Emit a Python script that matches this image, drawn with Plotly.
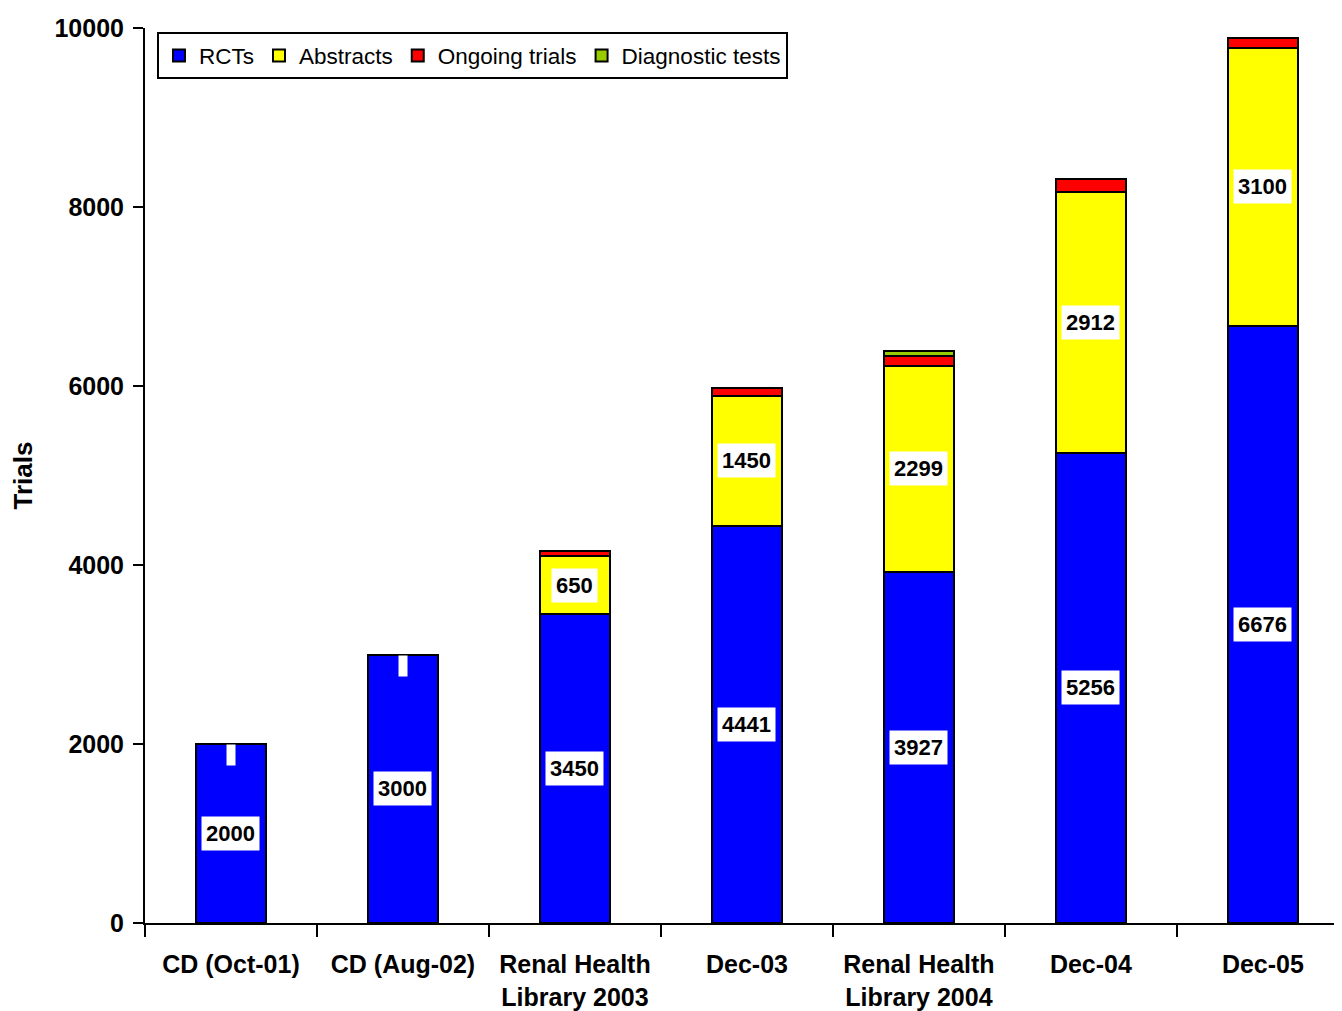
import plotly.graph_objects as go

categories = ["CD (Oct-01)", "CD (Aug-02)", "Renal Health<br>Library 2003", "Dec-03",
              "Renal Health<br>Library 2004", "Dec-04", "Dec-05"]
rcts = [2000, 3000, 3450, 4441, 3927, 5256, 6676]
abstracts = [0, 0, 650, 1450, 2299, 2912, 3100]
ongoing = [0, 0, 60, 85, 110, 140, 110]
diagnostic = [0, 0, 0, 0, 50, 0, 0]
y_ticks = [0, 2000, 4000, 6000, 8000, 10000]
y_tick_labels = ["0", "2000", "4000", "6000", "8000", "10000"]

FONT = "Liberation Sans, Arial, sans-serif"
series = [
    ("RCTs", rcts, "#0000FF"),
    ("Abstracts", abstracts, "#FFFF00"),
    ("Ongoing trials", ongoing, "#FF0000"),
    ("Diagnostic tests", diagnostic, "#99CC00"),
]

fig = go.Figure()
for name, vals, col in series:
    fig.add_trace(go.Bar(
        x=categories, y=vals, name=name, width=0.41,
        marker=dict(color=col, line=dict(color="black", width=2)),
    ))

annotations = []
for i, cat in enumerate(categories):
    annotations.append(dict(
        x=cat, y=rcts[i] / 2, xref="x", yref="y", text=str(rcts[i]),
        showarrow=False, bgcolor="white", borderpad=4,
        font=dict(family=FONT, size=22, color="black", weight="bold"),
    ))
    if abstracts[i] > 0:
        annotations.append(dict(
            x=cat, y=rcts[i] + abstracts[i] / 2, xref="x", yref="y",
            text=str(abstracts[i]),
            showarrow=False, bgcolor="white", borderpad=4,
            font=dict(family=FONT, size=22, color="black", weight="bold"),
        ))
    else:
        annotations.append(dict(
            x=cat, y=rcts[i], xref="x", yref="y", text=" ", yanchor="top",
            showarrow=False, bgcolor="white", borderpad=0, width=8, height=20,
            font=dict(family=FONT, size=10, color="white"),
        ))

fig.update_layout(
    barmode="stack",
    width=1334, height=1003,
    margin=dict(l=137, r=0, t=20, b=86),
    paper_bgcolor="white", plot_bgcolor="white",
    font=dict(family=FONT, color="black"),
    showlegend=True,
    legend=dict(
        orientation="h", x=0.01, y=0.995, xanchor="left", yanchor="top",
        bordercolor="black", borderwidth=2, bgcolor="white",
        font=dict(family=FONT, size=22.5, color="black"),
        traceorder="normal",
    ),
    annotations=annotations,
)
fig.update_xaxes(
    type="category", categoryorder="array", categoryarray=categories,
    range=[-0.5, 6.46], tickson="boundaries", ticks="outside", ticklen=12,
    tickwidth=2, tickcolor="black", showline=True, linecolor="black", linewidth=2,
    showgrid=False, zeroline=False, ticklabelstandoff=18,
    tickfont=dict(family=FONT, size=25, color="black", weight="bold"),
)
fig.update_yaxes(
    range=[0, 10000], tickmode="array", tickvals=y_ticks, ticktext=y_tick_labels,
    ticks="outside", ticklen=10, tickwidth=2, tickcolor="black", ticklabelstandoff=4,
    showline=True, linecolor="black", linewidth=2, showgrid=False, zeroline=False,
    tickfont=dict(family=FONT, size=25, color="black", weight="bold"),
    title=dict(text="Trials", font=dict(family=FONT, size=26, color="black", weight="bold"),
               standoff=28),
)

fig.write_html("out.html")
